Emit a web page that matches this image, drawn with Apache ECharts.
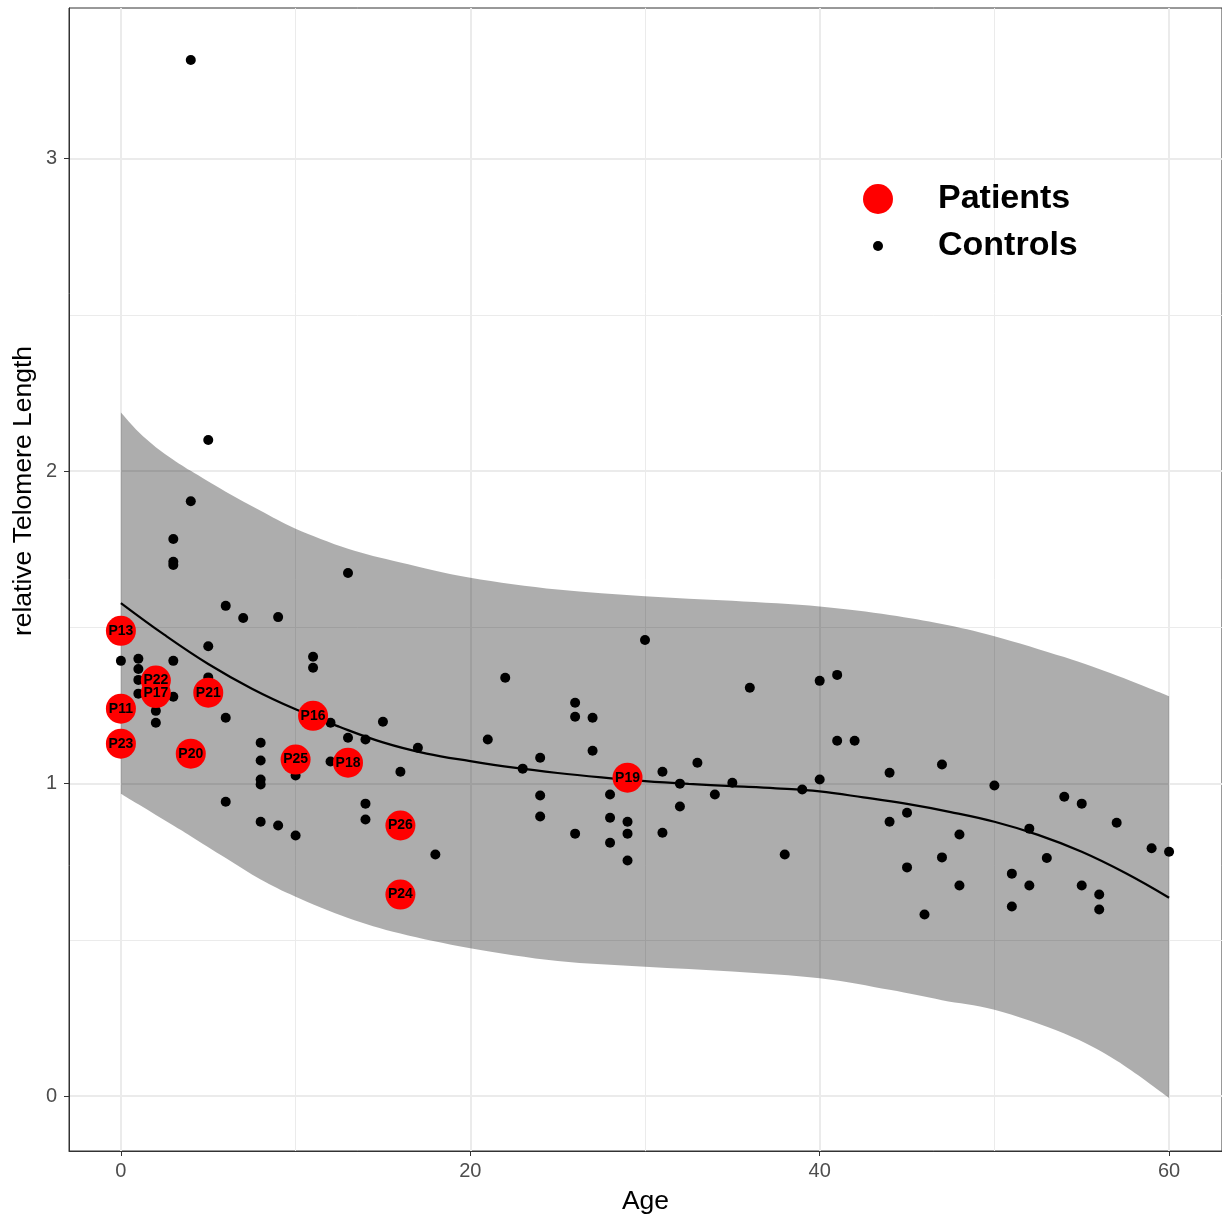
<!DOCTYPE html>
<html><head><meta charset="utf-8">
<script src="https://cdn.jsdelivr.net/npm/echarts@6/dist/echarts.min.js"></script>
<style>html,body{margin:0;padding:0;background:#fff}#c{width:1222px;height:1220px}</style>
</head><body><div id="c"></div>
<script>
// ---- data ----
const controlAge = [4,5,4,3,3,3,13,6,9,7,30,5,11,0,1,3,11,1,41,22,5,1,40,36,1,3,26,2,26,27,6,2,12,15,13,14,21,41,42,8,17,27,24,8,12,33,47,23,16,31,44,10,8,40,35,32,8,50,39,24,28,34,54,6,14,55,32,45,24,28,14,8,29,44,57,9,52,26,29,31,48,10,28,59,60,18,38,47,53,29,45,51,48,52,55,56,51,56,46];
const controlRTL = [3.316,2.10,1.904,1.783,1.71,1.70,1.674,1.569,1.533,1.53,1.460,1.44,1.406,1.393,1.40,1.393,1.371,1.367,1.348,1.339,1.34,1.332,1.329,1.307,1.288,1.278,1.259,1.233,1.214,1.211,1.211,1.195,1.195,1.198,1.147,1.141,1.141,1.137,1.137,1.131,1.115,1.105,1.083,1.074,1.071,1.067,1.061,1.048,1.038,1.038,1.035,1.026,1.013,1.013,1.003,1.0,0.997,0.994,0.981,0.962,0.965,0.965,0.958,0.942,0.936,0.936,0.927,0.907,0.895,0.891,0.885,0.878,0.878,0.878,0.875,0.866,0.856,0.840,0.840,0.843,0.837,0.834,0.811,0.793,0.782,0.773,0.773,0.764,0.762,0.754,0.732,0.712,0.674,0.674,0.674,0.645,0.607,0.597,0.581];
const patientIds = ['P13','P11','P23','P22','P17','P21','P20','P16','P25','P18','P26','P24','P19'];
const patientAge = [0,0,0,2,2,5,4,11,10,13,16,16,29];
const patientRTL = [1.489,1.240,1.128,1.330,1.290,1.291,1.096,1.217,1.077,1.067,0.866,0.645,1.019];
const fitAge = [0,2.5,5,7.5,10,12.5,15,17.5,20,22.5,25,27.5,30,32.5,35,37.5,40,42.5,45,47.5,50,52.5,55,57.5,60];
const fitRTL = [1.578,1.476,1.383,1.304,1.238,1.182,1.132,1.096,1.072,1.051,1.034,1.020,1.008,0.999,0.992,0.985,0.975,0.956,0.935,0.909,0.878,0.836,0.782,0.714,0.635];
const bandAge = [0,1,2,3,4,6,8,10,13,16,20,25,30,35,40,44,47,50,54,57,60];
const bandUpper = [2.188,2.126,2.077,2.037,2.001,1.934,1.873,1.816,1.752,1.708,1.659,1.621,1.600,1.585,1.567,1.540,1.511,1.472,1.405,1.346,1.280];
const bandLower = [0.968,0.934,0.900,0.866,0.832,0.762,0.693,0.638,0.570,0.520,0.473,0.432,0.414,0.399,0.377,0.340,0.307,0.276,0.200,0.113,-0.006];
const xTicks = [0,20,40,60];
const xMinor = [10,30,50];
const yTicks = [0,1,2,3];
const yMinor = [0.5,1.5,2.5];

const FONT = "'Liberation Sans', Arial, Helvetica, sans-serif";
const chart = echarts.init(document.getElementById('c'), null, {renderer:'canvas'});

const gridLines = [];
xTicks.forEach(v => gridLines.push({xAxis: v, lineStyle:{color:'#ebebeb', width:2, type:'solid'}}));
xMinor.forEach(v => gridLines.push({xAxis: v, lineStyle:{color:'#ebebeb', width:1, type:'solid'}}));
yTicks.forEach(v => gridLines.push({yAxis: v, lineStyle:{color:'#ebebeb', width:2, type:'solid'}}));
yMinor.forEach(v => gridLines.push({yAxis: v, lineStyle:{color:'#ebebeb', width:1, type:'solid'}}));

// Catmull-Rom smoothing of pixel points into cubic bezier path commands
function smoothSegs(p) {
  let d = '';
  for (let i = 0; i < p.length - 1; i++) {
    const p0 = p[Math.max(0, i - 1)], p1 = p[i], p2 = p[i + 1], p3 = p[Math.min(p.length - 1, i + 2)];
    const c1 = [p1[0] + (p2[0] - p0[0]) / 6, p1[1] + (p2[1] - p0[1]) / 6];
    const c2 = [p2[0] - (p3[0] - p1[0]) / 6, p2[1] - (p3[1] - p1[1]) / 6];
    d += ' C' + c1[0] + ',' + c1[1] + ' ' + c2[0] + ',' + c2[1] + ' ' + p2[0] + ',' + p2[1];
  }
  return d;
}

const option = {
  animation: false,
  backgroundColor: '#ffffff',
  textStyle: {fontFamily: FONT},
  grid: {left: 69, top: 8, width: 1155, height: 1145, show: true, borderColor: '#333333', borderWidth: 1, backgroundColor: 'transparent'},
  xAxis: {
    type: 'value', min: -2.971, max: 63.029,
    splitLine: {show: false},
    axisLine: {show: true, onZero: false, lineStyle: {color: '#333333', width: 1}},
    axisTick: {show: true, length: 5, customValues: xTicks, lineStyle: {color: '#333333', width: 1}},
    axisLabel: {customValues: xTicks, color: '#4d4d4d', fontSize: 20, margin: 10, fontFamily: FONT},
    name: 'Age', nameLocation: 'middle', nameGap: 37,
    nameTextStyle: {color: '#000000', fontSize: 26.5, fontFamily: FONT}
  },
  yAxis: {
    type: 'value', min: -0.1757, max: 3.4824,
    splitLine: {show: false},
    axisLine: {show: true, onZero: false, lineStyle: {color: '#333333', width: 1}},
    axisTick: {show: true, length: 5, customValues: yTicks, lineStyle: {color: '#333333', width: 1}},
    axisLabel: {customValues: yTicks, color: '#4d4d4d', fontSize: 20, margin: 12, fontFamily: FONT}
  },
  graphic: [{
    type: 'text', x: 24, y: 491, rotation: Math.PI / 2,
    style: {text: 'relative Telomere Length', fill: '#000000', fontSize: 26.5, fontFamily: FONT, align: 'center', verticalAlign: 'middle'}
  }],
  legend: [
    {data: ['Patients'], left: 863, top: 182, padding: 0, itemWidth: 30, itemHeight: 30, icon: 'circle', selectedMode: false,
     textStyle: {fontSize: 34, fontWeight: 'bold', color: '#000000', fontFamily: FONT, padding: [0, 0, 0, 40]}},
    {data: ['Controls'], left: 873, top: 229, padding: 0, itemWidth: 10, itemHeight: 10, icon: 'circle', selectedMode: false,
     textStyle: {fontSize: 34, fontWeight: 'bold', color: '#000000', fontFamily: FONT, padding: [0, 0, 0, 50]}}
  ],
  series: [
    {name: 'grid', type: 'scatter', data: [], z: 0, silent: true,
     markLine: {silent: true, symbol: 'none', label: {show: false}, z: 0, animation: false, data: gridLines}},
    {name: 'band', type: 'custom', z: 1, silent: true, data: [[0, 0]],
     renderItem: function (params, api) {
       const up = bandAge.map((a, i) => api.coord([a, bandUpper[i]]));
       const lo = bandAge.map((a, i) => api.coord([a, bandLower[i]])).reverse();
       const d = 'M' + up[0][0] + ',' + up[0][1] + smoothSegs(up) +
                 ' L' + lo[0][0] + ',' + lo[0][1] + smoothSegs(lo) + ' Z';
       return {type: 'path', shape: {pathData: d}, style: {fill: 'rgba(0,0,0,0.32)', stroke: null}};
     }},
    {name: 'fit', type: 'line', z: 2, symbol: 'none', smooth: 0.4, silent: true,
     lineStyle: {color: '#000000', width: 2.2}, data: fitAge.map((a, i) => [a, fitRTL[i]])},
    {name: 'Controls', type: 'scatter', z: 3, symbol: 'circle', symbolSize: 10,
     itemStyle: {color: '#000000', opacity: 1}, data: controlAge.map((a, i) => [a, controlRTL[i]])},
    {name: 'Patients', type: 'scatter', z: 4, symbol: 'circle', symbolSize: 30,
     itemStyle: {color: '#ff0000', opacity: 1},
     label: {show: true, position: 'inside', formatter: '{b}', color: '#000000', fontWeight: 'bold', fontSize: 14, fontFamily: FONT},
     data: patientIds.map((id, i) => ({name: id, value: [patientAge[i], patientRTL[i]]}))}
  ]
};
chart.setOption(option);
</script>
</body></html>
